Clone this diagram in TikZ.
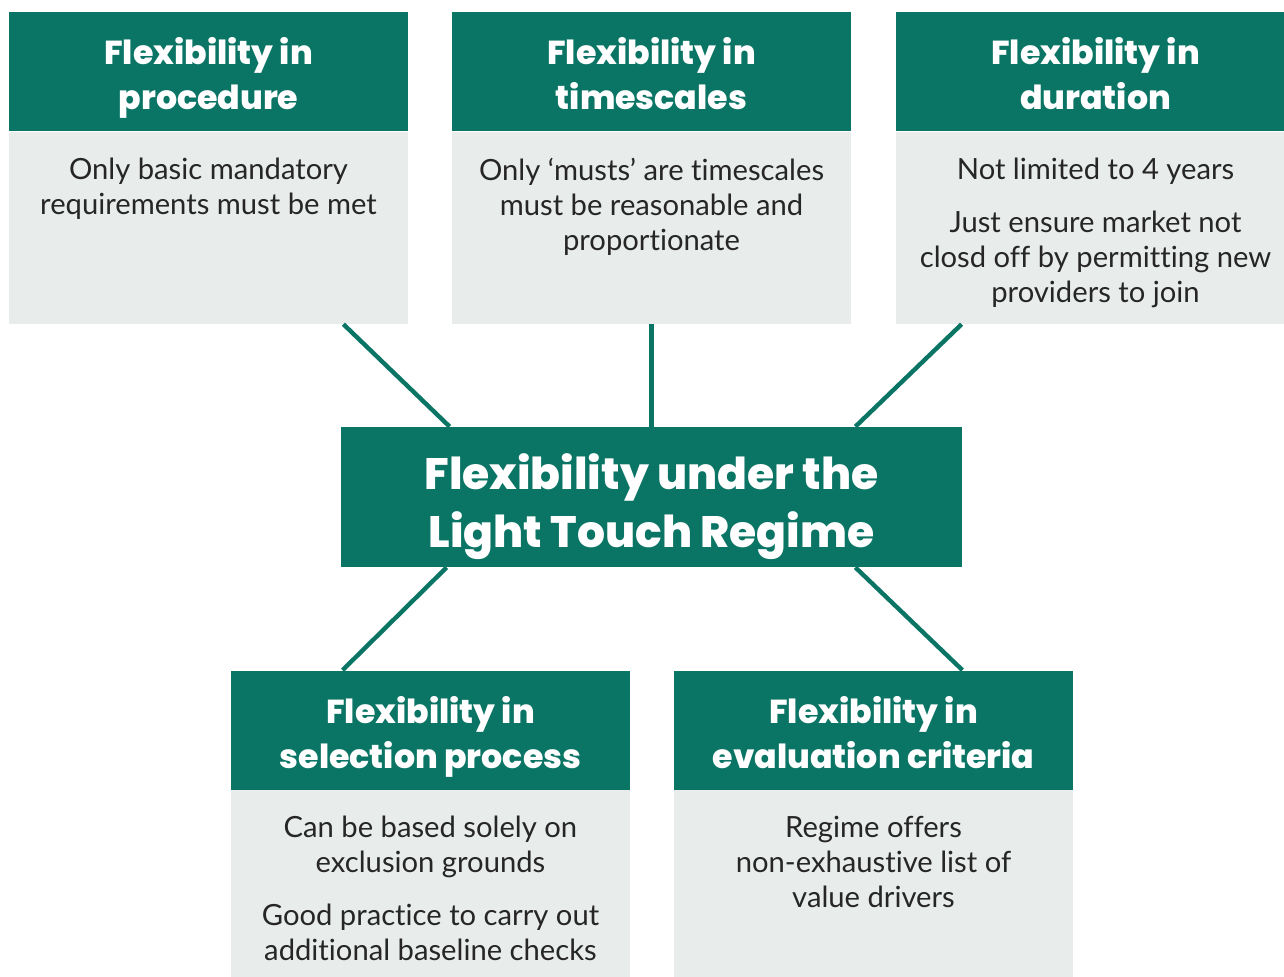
\documentclass[tikz,border=0pt]{standalone}
\usepackage{fontspec}
\setmainfont{Lato}[Ligatures=NoCommon]
\newfontfamily\headfont{Poppins}[BoldFont={Poppins ExtraBold}]
\usepackage{tikz}
\usetikzlibrary{positioning}
\definecolor{lttgreen}{RGB}{10,116,101}
\definecolor{lttgrey}{RGB}{232,236,234}
\definecolor{lttink}{RGB}{38,38,38}

\begin{document}
\begin{tikzpicture}[x=0.5pt, y=-0.5pt,
  head/.style={fill=lttgreen, text=white, minimum width=199.5pt, minimum height=59.5pt, inner sep=0pt, align=center, text height=38pt, text depth=0pt, font=\headfont\bfseries\fontsize{16.6}{22.5}\selectfont},
  panel/.style={fill=lttgrey, minimum width=199.5pt, minimum height=96pt, inner sep=0pt},
  note/.style={text=lttink, align=center, inner sep=0pt, font=\fontsize{14.6}{17.5}\selectfont},
  hubbox/.style={fill=lttgreen, text=white, minimum width=310.5pt, minimum height=70pt, inner sep=0pt, align=center, text height=50.5pt, text depth=0pt, font=\headfont\bfseries\fontsize{22}{29}\selectfont},
  link/.style={draw=lttgreen, line width=2.2pt}]
\clip (0,0) rectangle (1284,976);
% top row
\node[head] (proc) at (208.5,71.5) {Flexibility in\\procedure};
\node[panel, below=0pt of proc] (procbox) {};
\node[note, below=13pt of proc] (proctext) {Only basic mandatory\\requirements must be met};
\node[head] (time) at (651.5,71.5) {Flexibility in\\timescales};
\node[panel, below=0pt of time] (timebox) {};
\node[note, below=13pt of time] (timetext) {Only ‘musts’ are timescales\\must be reasonable and\\proportionate};
\node[head] (dur) at (1095.5,71.5) {Flexibility in\\duration};
\node[panel, below=0pt of dur] (durbox) {};
\node[note, below=13pt of dur] (durtext) {Not limited to 4 years\\[9pt]Just ensure market not\\closd off by permitting new\\providers to join};
% centre
\node[hubbox] (hub) at (651.5,497) {Flexibility under the\\Light Touch Regime};
% bottom row
\node[head] (sel) at (430.5,730) {Flexibility in\\selection process};
\node[panel, below=0pt of sel] (selbox) {};
\node[note, below=13pt of sel] (seltext) {Can be based solely on\\exclusion grounds\\[9pt]Good practice to carry out\\additional baseline checks};
\node[head] (eval) at (873.5,730) {Flexibility in\\evaluation criteria};
\node[panel, below=0pt of eval] (evalbox) {};
\node[note, below=13pt of eval] (evaltext) {Regime offers\\non-exhaustive list of\\value drivers};
% links to the centre
\draw[link] ([xshift=-32.5pt]procbox.south east) -- ([xshift=54.5pt]hub.north west);
\draw[link] (timebox.south) -- (hub.north);
\draw[link] ([xshift=33pt]durbox.south west) -- ([xshift=-53.5pt]hub.north east);
\draw[link] ([xshift=53pt]hub.south west) -- ([xshift=56pt]sel.north west);
\draw[link] ([xshift=-53.5pt]hub.south east) -- ([xshift=-55.5pt]eval.north east);
\end{tikzpicture}
\end{document}
